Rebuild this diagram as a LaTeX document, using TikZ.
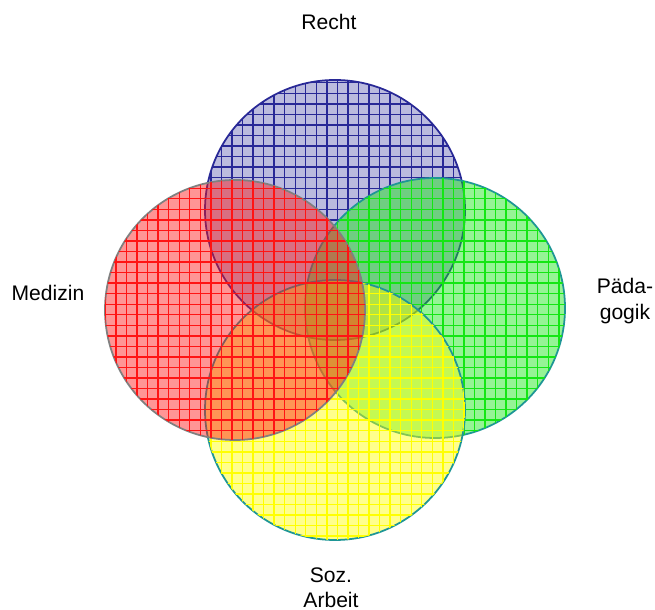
\documentclass[tikz,border=0pt]{standalone}
\usepackage{fontspec}
\setmainfont{Liberation Sans}
\usetikzlibrary{patterns}
\definecolor{rechtblue}{RGB}{40,40,150}
\definecolor{medred}{RGB}{255,20,20}
\definecolor{paedgreen}{RGB}{20,230,20}
\definecolor{sozyellow}{RGB}{255,255,0}
\definecolor{rimteal}{RGB}{30,150,150}

\begin{document}
\begin{tikzpicture}[
  venn/.style={
    line width=0.5pt,
    fill opacity=0.45,
    draw opacity=1
  },
  gridfill/.style={
    pattern=grid,
    pattern color=#1,
    fill opacity=0.6
  },
  label/.style={
    font=\fontsize{6}{7.2}\selectfont,
    align=center,
    text=black
  }
]
  \useasboundingbox (0,0) rectangle (6.55,-6.10);

  % Circles of the four fields
  \draw[venn, draw=rechtblue, fill=rechtblue!70]
    (3.35,-2.10) circle (1.30);
  \path[gridfill=rechtblue] (3.35,-2.10) circle (1.30);

  \draw[venn, draw=rimteal, fill=paedgreen]
    (4.35,-3.08) circle (1.30);
  \path[gridfill=paedgreen] (4.35,-3.08) circle (1.30);

  \draw[venn, draw=rimteal, fill=sozyellow]
    (3.35,-4.10) circle (1.30);
  \path[gridfill=sozyellow] (3.35,-4.10) circle (1.30);

  \draw[venn, draw=gray, fill=medred]
    (2.35,-3.10) circle (1.30);
  \path[gridfill=medred] (2.35,-3.10) circle (1.30);

  % Field labels
  \node[label] (recht) at (3.29,-0.22) {Recht};
  \node[label] (medizin) at (0.48,-2.93) {Medizin};
  \node[label] (paed) at (6.25,-3.01) {Päda-\\gogik};
  \node[label] (soz) at (3.31,-5.88) {Soz.\\Arbeit};
\end{tikzpicture}
\end{document}
